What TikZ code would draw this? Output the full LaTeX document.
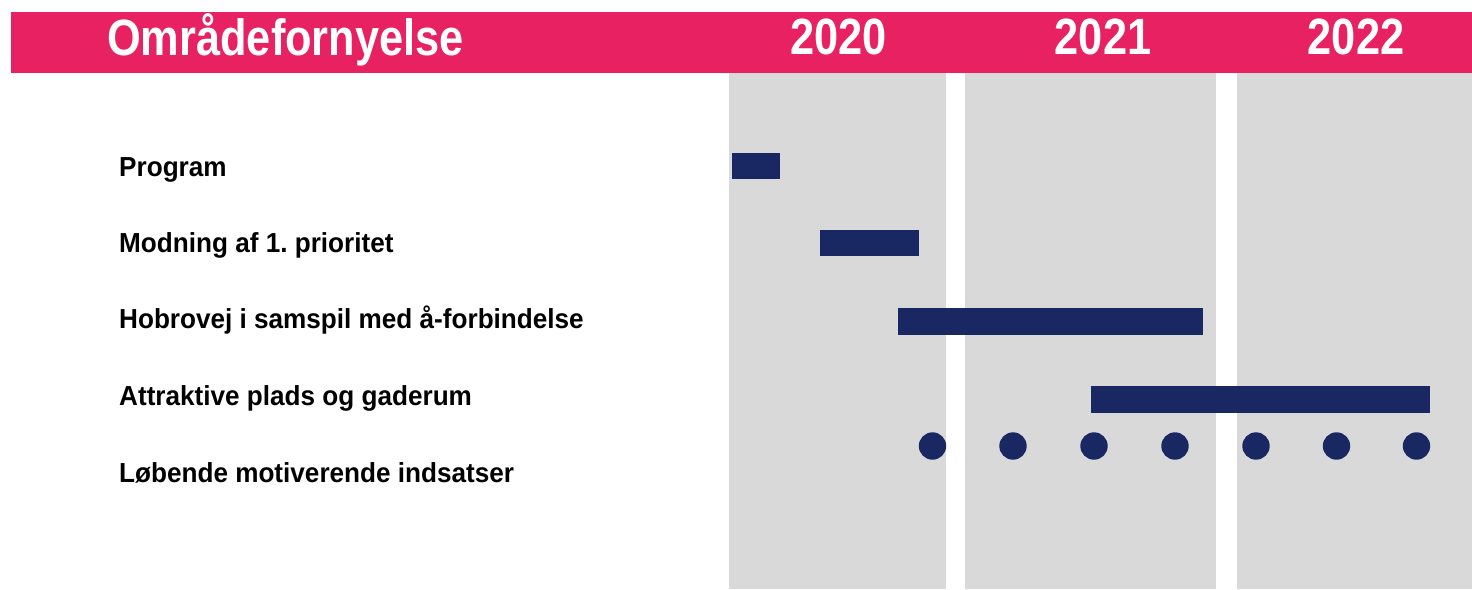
\documentclass[tikz,border=0pt]{standalone}
\usepackage{fontspec}
\setmainfont{Liberation Sans}
\newfontfamily\headfont[FakeStretch=0.85]{Liberation Sans Bold}
\newfontfamily\labfont[FakeStretch=0.95]{Liberation Sans Bold}
\definecolor{pinkband}{RGB}{232,33,99}
\definecolor{colgray}{RGB}{217,217,217}
\definecolor{navy}{RGB}{25,40,99}
\tikzset{
  head/.style={text=white, font=\headfont\fontsize{51pt}{51pt}\selectfont, inner sep=0pt, anchor=base},
  lab/.style={text=black, font=\labfont\fontsize{27.5pt}{27.5pt}\selectfont\frenchspacing, inner sep=0pt, anchor=base west},
  bar/.style={fill=navy},
  dot/.style={fill=navy},
}
\begin{document}
\frenchspacing
\begin{tikzpicture}[x=1pt,y=-1pt]
\useasboundingbox (0,0) rectangle (1472,589);
% header band
\fill[pinkband] (11,12) rectangle (1472,72.5);
% year columns
\fill[colgray] (729,73) rectangle (946,589);
\fill[colgray] (965,73) rectangle (1216,589);
\fill[colgray] (1237,73) rectangle (1472,589);
% header texts
\node[head] (title) at (285.5,55) {Områdefornyelse};
\node[head] (y2020) at (838.5,54) {2020};
\node[head] (y2021) at (1103,54) {2021};
\node[head] (y2022) at (1356,54) {2022};
% row labels
\node[lab] (l1) at (119,176) {Program};
\node[lab] (l2) at (119,252) {Modning af 1. prioritet};
\node[lab] (l3) at (119,328.5) {Hobrovej i samspil med å-forbindelse};
\node[lab] (l4) at (119,405) {Attraktive plads og gaderum};
\node[lab] (l5) at (119,482) {Løbende motiverende indsatser};
% bars
\fill[bar] (732,152.5) rectangle (780,178.5);
\fill[bar] (820,229.5) rectangle (918.5,255.5);
\fill[bar] (898,308) rectangle (1203,334.5);
\fill[bar] (1090.5,386) rectangle (1430,412.5);
% milestones
\foreach \x in {932.5,1013,1094,1175,1256,1336.5,1416.5}
  \fill[dot] (\x,446) circle (13.7);
\end{tikzpicture}
\end{document}
